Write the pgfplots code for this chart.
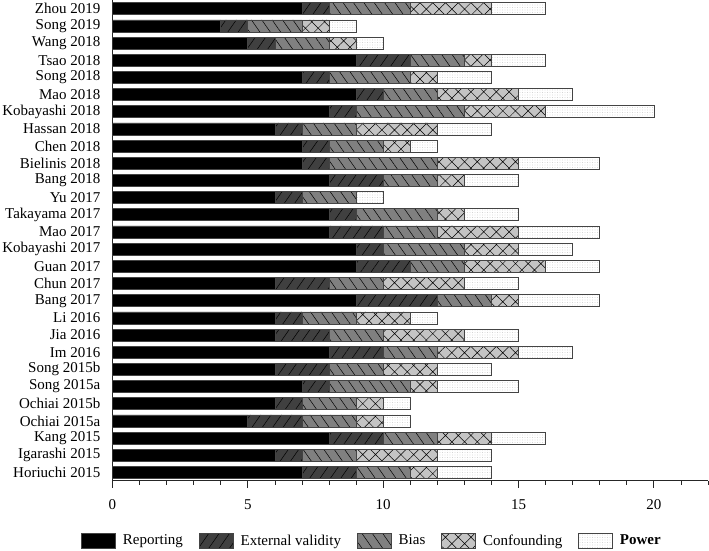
\documentclass[border=0pt]{standalone}
\usepackage{fontspec}
\setmainfont{Liberation Serif}
\usepackage{pgfplots}
\pgfplotsset{compat=1.18}
\usepackage{pgfplotstable}
\usetikzlibrary{patterns.meta}

\definecolor{extc}{HTML}{404040}
\definecolor{biasc}{HTML}{808080}
\definecolor{confc}{HTML}{C4C4C4}
\definecolor{edgec}{HTML}{444444}

\pgfplotstableread{
idx rep ext bias conf pow
0 7 2 2 1 2
1 6 1 2 3 2
2 8 2 2 2 2
3 5 2 2 1 1
4 6 1 2 1 1
5 7 1 3 1 3
6 6 2 2 2 2
7 8 2 2 3 2
8 6 2 2 3 2
9 6 1 2 2 1
10 9 3 2 1 3
11 6 2 2 3 2
12 9 2 2 3 2
13 9 1 3 2 2
14 8 2 2 3 3
15 8 1 3 1 2
16 6 1 2 0 1
17 8 2 2 1 2
18 7 1 4 3 3
19 7 1 2 1 1
20 6 1 2 3 2
21 8 1 4 3 4
22 9 1 2 3 2
23 7 1 3 1 2
24 9 2 2 1 2
25 5 1 2 1 1
26 4 1 2 1 1
27 7 1 3 3 2
}\datatable

\begin{document}
\fontsize{15}{18}\selectfont
\begin{tikzpicture}
\begin{axis}[
  at={(112.5pt,69.5pt)}, anchor=south west,
  width=595.5pt, height=480.5pt, scale only axis,
  xbar stacked, bar width=0.7,
  xmin=0, xmax=22, ymin=-0.47, ymax=27.51,
  axis x line*=bottom, axis y line*=left,
  axis line style={black!85, line width=0.8pt},
  xtick={0,5,...,20}, minor xtick={0,...,22},
  major tick length=7pt, minor tick length=4pt,
  tick align=outside,
  x tick style={black!85, line width=0.8pt},
  y tick style={draw=none},
  ytick={0,...,27},
  yticklabels={Horiuchi 2015, Igarashi 2015, Kang 2015, Ochiai 2015a, Ochiai 2015b, Song 2015a, Song 2015b, Im 2016, Jia 2016, Li 2016, Bang 2017, Chun 2017, Guan 2017, Kobayashi 2017, Mao 2017, Takayama 2017, Yu 2017, Bang 2018, Bielinis 2018, Chen 2018, Hassan 2018, Kobayashi 2018, Mao 2018, Song 2018, Tsao 2018, Wang 2018, Song 2019, Zhou 2019},
  /pgf/number format/assume math mode=true,
  tick label style={font=\fontsize{15}{18}\selectfont},
  xticklabel style={yshift=-7pt},
  legend style={draw=none, fill=none, font=\fontsize{15}{18}\selectfont,
    legend columns=5, at={(0.4358,-0.126)}, anchor=center,
    /tikz/every odd column/.append style={column sep=5pt},
    /tikz/every even column/.append style={column sep=14pt}},
  legend image code/.code={\draw[#1] (0pt,-7.5pt) rectangle (34pt,7.5pt);},
  every axis plot/.append style={draw=edgec, line width=0.7pt},
]
\addplot[fill=black] table[x=rep, y=idx] {\datatable};
\addplot[fill=extc, postaction={pattern={Lines[angle=55,distance=8.5pt,line width=0.5pt]}, pattern color=black}] table[x=ext, y=idx] {\datatable};
\addplot[fill=biasc, postaction={pattern={Lines[angle=-55,distance=8.5pt,line width=0.5pt]}, pattern color=black}] table[x=bias, y=idx] {\datatable};
\addplot[fill=confc, postaction={pattern={Hatch[angle=45,distance=9pt,line width=0.5pt]}, pattern color=black}] table[x=conf, y=idx] {\datatable};
\addplot[fill=white, postaction={pattern={Dots[distance=2.5pt,radius=0.35pt]}, pattern color=black!25}] table[x=pow, y=idx] {\datatable};
\legend{Reporting, External validity, Bias, Confounding, \textbf{Power}}
\end{axis}
\pgfresetboundingbox
\path[use as bounding box] (0,0) rectangle (709pt,550pt);
\end{tikzpicture}
\end{document}
